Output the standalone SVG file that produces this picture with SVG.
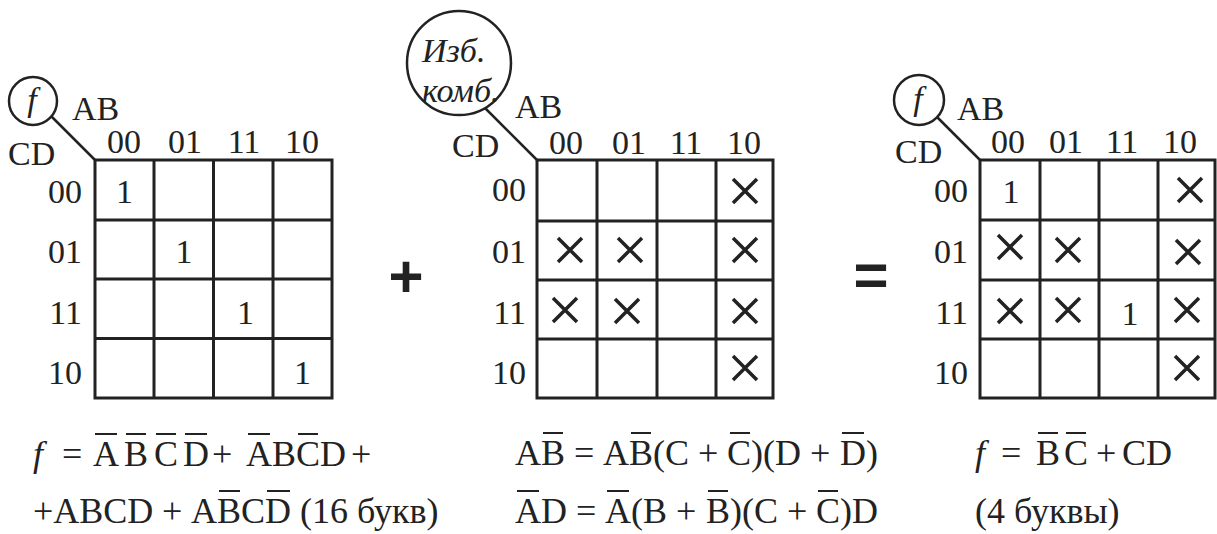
<svg xmlns="http://www.w3.org/2000/svg" width="1217" height="534" viewBox="0 0 1217 534">
<style>
.g{fill:none;stroke:#222;stroke-width:3}
.c{fill:#fff;stroke:#222;stroke-width:2.5}
.ln{stroke:#222;stroke-width:2.5;fill:none}
.t{font-family:"Liberation Serif","Times New Roman",serif;font-size:34px;fill:#222}
.m{text-anchor:middle}
.e{text-anchor:end}
.i{font-style:italic}
.fm{font-family:"Liberation Serif","Times New Roman",serif;font-size:36px;fill:#222}
.ob{stroke:#222;stroke-width:2}
.op{font-family:"Liberation Sans",Arial,sans-serif;font-weight:bold;font-size:60px;fill:#222;text-anchor:middle}
.x{stroke:#222;stroke-width:3.5;fill:none}
</style>
<defs>
<path id="cross" d="M-12,-12L12,12M12,-12L-12,12"/>
</defs>
<g id="connectors">
<line class="ln" x1="45" y1="110" x2="95" y2="160"/>
<line class="ln" x1="478" y1="101" x2="537" y2="160"/>
<line class="ln" x1="931" y1="111" x2="980" y2="160"/>
</g>
<g id="map-f">
<circle class="c" cx="33" cy="101" r="24"/>
<text class="t i m" x="32" y="111" font-size="36">f</text>
<text class="t" x="72" y="120">AB</text>
<text class="t" x="8" y="165">CD</text>
<rect class="g" x="95" y="160" width="237" height="238"/>
<path class="g" d="M154,160V398M213.5,160V398M273,160V398M95,220H332M95,279H332M95,338.5H332"/>
<g class="t m"><text x="124" y="153">00</text><text x="185" y="153">01</text><text x="244" y="153">11</text><text x="302" y="153">10</text></g>
<g class="t e"><text x="82" y="203">00</text><text x="82" y="263">01</text><text x="82" y="324">11</text><text x="82" y="384">10</text></g>
<g class="t m"><text x="124.5" y="203">1</text><text x="184" y="263">1</text><text x="245.5" y="324">1</text><text x="302.5" y="384">1</text></g>
</g>
<g id="map-dc">
<circle class="c" cx="459" cy="63" r="52"/>
<text class="t i" x="422" y="62" font-size="35">Изб.</text>
<text class="t i" x="422" y="102" font-size="35">комб.</text>
<text class="t" x="515" y="118">AB</text>
<text class="t" x="452" y="157">CD</text>
<rect class="g" x="537" y="160" width="236" height="238"/>
<path class="g" d="M597,160V398M657,160V398M716,160V398M537,221H773M537,280H773M537,339H773"/>
<g class="t m"><text x="566" y="154">00</text><text x="629" y="154">01</text><text x="686" y="154">11</text><text x="744" y="154">10</text></g>
<g class="t e"><text x="526" y="201">00</text><text x="526" y="263">01</text><text x="526" y="324">11</text><text x="526" y="384">10</text></g>
<g class="x">
<use href="#cross" x="745" y="191"/>
<use href="#cross" x="570" y="250"/>
<use href="#cross" x="630" y="250"/>
<use href="#cross" x="745" y="250"/>
<use href="#cross" x="565" y="310"/>
<use href="#cross" x="627" y="311"/>
<use href="#cross" x="745" y="311"/>
<use href="#cross" x="745" y="368"/>
</g>
</g>
<g id="map-result">
<circle class="c" cx="919" cy="100" r="25"/>
<text class="t i m" x="918" y="110" font-size="36">f</text>
<text class="t" x="957" y="120">AB</text>
<text class="t" x="895" y="163">CD</text>
<rect class="g" x="980" y="160" width="235" height="238"/>
<path class="g" d="M1040,160V398M1099,160V398M1158,160V398M980,220H1215M980,280H1215M980,339H1215"/>
<g class="t m"><text x="1008" y="153">00</text><text x="1066" y="153">01</text><text x="1122" y="153">11</text><text x="1180" y="153">10</text></g>
<g class="t e"><text x="968" y="202">00</text><text x="968" y="263">01</text><text x="968" y="324">11</text><text x="968" y="384">10</text></g>
<g class="t m"><text x="1011" y="203">1</text><text x="1130" y="325">1</text></g>
<g class="x">
<use href="#cross" x="1190" y="190"/>
<use href="#cross" x="1010" y="247"/>
<use href="#cross" x="1068" y="250"/>
<use href="#cross" x="1188" y="252"/>
<use href="#cross" x="1010" y="311"/>
<use href="#cross" x="1068" y="310"/>
<use href="#cross" x="1187" y="310"/>
<use href="#cross" x="1187" y="368"/>
</g>
</g>
<g id="operators">
<text class="op" x="406" y="297">+</text>
<text class="op" x="871" y="295">=</text>
</g>
<g id="formulas">
<text class="fm" y="466"><tspan x="33" font-style="italic">f</tspan><tspan x="62">=</tspan><tspan x="93">A</tspan><tspan x="124">B</tspan><tspan x="154">C</tspan><tspan x="183">D</tspan><tspan x="212">+</tspan><tspan x="246">ABCD</tspan><tspan x="351">+</tspan></text>
<text class="fm" y="523"><tspan x="33">+ABCD</tspan><tspan x="162">+</tspan><tspan x="191">ABCD</tspan><tspan x="300">(16 букв)</tspan></text>
<text class="fm" y="465"><tspan x="515">AB</tspan><tspan x="574">=</tspan><tspan x="603">AB(C</tspan><tspan x="698">+</tspan><tspan x="727">C)(D</tspan><tspan x="810">+</tspan><tspan x="840">D)</tspan></text>
<text class="fm" y="523"><tspan x="515">AD</tspan><tspan x="576">=</tspan><tspan x="605">A(B</tspan><tspan x="676">+</tspan><tspan x="706">B)(C</tspan><tspan x="787">+</tspan><tspan x="816">C)D</tspan></text>
<text class="fm" y="465"><tspan x="975" font-style="italic">f</tspan><tspan x="1001">=</tspan><tspan x="1036">B</tspan><tspan x="1064">C</tspan><tspan x="1096">+</tspan><tspan x="1122">CD</tspan></text>
<text class="fm" x="975" y="523">(4 буквы)</text>
<path class="ob" d="M95,434H117M126,434H146M156,434H176M185,434H207M248,434H270M298,434H318M219,491H240M267,491H290M543,433H563M631,433H651M730,433H750M842,433H864M517,491H539M607,491H629M708,491H728M818,491H838M1038,433H1058M1066,433H1086"/>
</g>
</svg>
